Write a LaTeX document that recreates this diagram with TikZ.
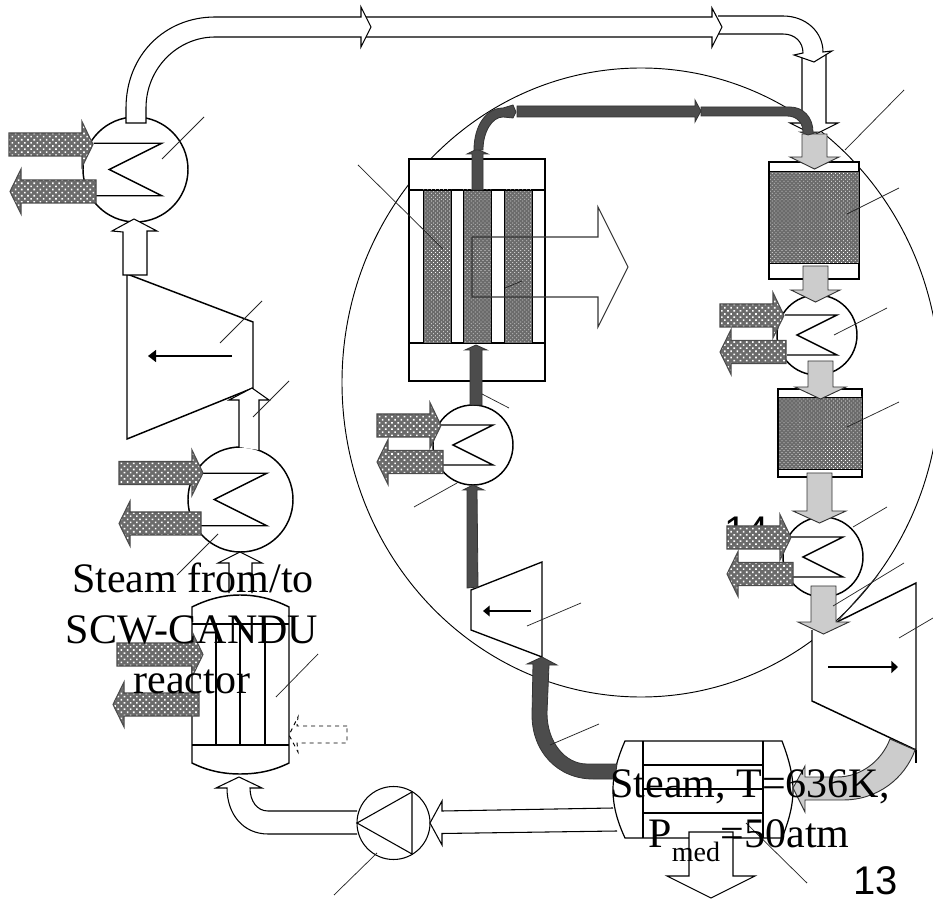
\documentclass[tikz,border=0pt]{standalone}
\usepackage{fontspec}
\setmainfont{Liberation Serif}
\setsansfont{Liberation Sans}
\usetikzlibrary{arrows.meta,patterns.meta}

\begin{document}
\begin{tikzpicture}[
  x=0.75pt,y=-0.75pt,
  line cap=butt,
  line join=miter,
  every node/.style={inner sep=0pt,font=\fontsize{31.5}{36}\selectfont},
  unit/.style={fill=white,line width=1.1pt},
  thinline/.style={line width=0.7pt},
  tag/.style={line width=0.55pt,black!85},
  white pipe/.style={draw,fill=white,line width=0.8pt},
  hot pipe/.style={draw=black!80,fill=black!70,line width=0.6pt},
  gas pipe/.style={draw=black!80,fill=black!20,line width=0.7pt},
  coolant/.style={draw=black!70,line width=0.8pt,preaction={fill=black!58},
    pattern={Dots[radius=0.85pt,distance=3.3pt,angle=45]},pattern color=white},
  bed/.style={draw,line width=0.6pt,preaction={fill=black!58},
    pattern={Dots[radius=0.4pt,distance=2.1pt,angle=45]},pattern color=white},
  big/.style={font=\fontsize{31.5}{36}\selectfont},
  num/.style={font=\sffamily\fontsize{30}{36}\selectfont}
]
\useasboundingbox (0,0) rectangle (933,902);

% ------------------------------------------------------------------
% Copper-chlorine loop boundary
% ------------------------------------------------------------------
\draw[thinline] (641,382.5) ellipse [x radius=299,y radius=314.5];
\node[num,anchor=base] (lbl14) at (747,545) {14};

% ------------------------------------------------------------------
% Heat exchangers
% ------------------------------------------------------------------
\foreach \cx/\cy/\r in {135.5/169.5/52.5,240.5/499.5/52.5,473/445/40,817/335/40,823/557/40}{
  \draw[unit] (\cx,\cy) circle [radius=\r];
  \draw[line width=1.1pt] (\cx-0.8*\r,\cy-0.5*\r) -- ++(1.3*\r,0) -- (\cx-0.5*\r,\cy)
    -- (\cx+0.5*\r,\cy+0.5*\r) -- (\cx-0.75*\r,\cy+0.5*\r);
}

% ------------------------------------------------------------------
% Upper white steam line
% ------------------------------------------------------------------
\draw[white pipe] (802,57) -- (802,123) -- (790,123) -- (814,135) -- (838,123) -- (826,123)
  -- (826,55);
\draw[white pipe] (718,16) -- (783,16) .. controls (806,16) and (823,32) .. (823,52) -- (832,51)
  -- (814,62) -- (794,55) -- (803,53) .. controls (803,42) and (795,34) .. (783,34) -- (718,34);
\draw[white pipe] (366,17) -- (712,17) -- (712,8) -- (722,27) -- (712,47) -- (712,37) -- (366,37);
\draw[white pipe] (126,123) -- (126,108) .. controls (126,55) and (165,17) .. (215,17) -- (361,17)
  -- (361,7) -- (371,27) -- (361,47) -- (361,37) -- (215,37)
  .. controls (178,37) and (146,68) .. (146,108) -- (146,123) -- cycle;

% ------------------------------------------------------------------
% Left turbine train
% ------------------------------------------------------------------
\draw[unit] (127,274) -- (253,322) -- (253,388) -- (127,439) -- cycle;
\draw[line width=1.1pt,-{Triangle[length=6pt,width=9pt]}] (232,356) -- (148,356);
\draw[white pipe] (123,275) -- (123,232) -- (112,231) -- (134,219) -- (157,231) -- (147,231)
  -- (147,275) -- cycle;
\draw[white pipe] (239,447) -- (239,400) -- (229,400) -- (252,388) -- (269,400) -- (259,400)
  -- (259,450);
\draw[white pipe] (229,593) -- (229,563) -- (218,563) -- (240,552) -- (262,563) -- (252,563)
  -- (252,593);

% ------------------------------------------------------------------
% Reactor vessel
% ------------------------------------------------------------------
\draw[unit] (192,607) .. controls (208,599) and (224,595) .. (240,595)
  .. controls (257,595) and (273,599) .. (289,607) -- (289,763)
  .. controls (273,771) and (257,774) .. (240,774)
  .. controls (224,774) and (208,771) .. (192,763) -- cycle;
\draw[unit] (192,624) -- (289,624) (192,745) -- (289,745);
\foreach \x in {216,240,265}
  \draw[line width=1.1pt] (\x,624) -- (\x,745);
\draw[white pipe,dashed,fill=none,line width=0.7pt] (347,726) -- (297,726) -- (298,717)
  -- (289,735) -- (298,752) -- (297,743) -- (347,743) -- cycle;
\draw[white pipe] (357,834) -- (268,834) .. controls (243,834) and (227,814) .. (227,788)
  -- (216,788) -- (239,777) -- (262,788) -- (250,788)
  .. controls (250,801) and (257,811) .. (268,811) -- (357,811);

% ------------------------------------------------------------------
% Pump and condenser
% ------------------------------------------------------------------
\draw[unit,line width=0.8pt] (393.5,823) circle [radius=36.5];
\draw[line width=0.8pt] (357,823) -- (412,792) -- (412,854) -- cycle;
\draw[white pipe] (617,831) -- (442,833.5) -- (442,845) -- (430,823) -- (442,801) -- (442,811)
  -- (613,808);
\draw[unit,line width=0.9pt] (625,741) -- (782,741) .. controls (788,757) and (793,773) .. (793,790)
  .. controls (793,807) and (788,823) .. (782,838) -- (625,838)
  .. controls (618,823) and (613,807) .. (613,790) .. controls (613,773) and (618,757) .. (625,741) -- cycle;
\draw[line width=0.9pt] (643,741) -- (643,838) (763,741) -- (763,838);
\foreach \y in {765,789,813}
  \draw[line width=0.9pt] (643,\y) -- (763,\y);
\draw[white pipe] (689,832) -- (689,876) -- (667,876) -- (711,898) -- (755,876) -- (733,876)
  -- (733,832) -- cycle;

% ------------------------------------------------------------------
% Right side units
% ------------------------------------------------------------------
\draw[unit] (812,630) -- (812,701) -- (916,750) -- (916,583) -- (837,622);
\draw[line width=1.1pt] (916,750) -- (916,763);
\draw[line width=1.1pt,-{Triangle[length=5pt,width=9pt]}] (828,667) -- (898,667);
\draw[gas pipe] (890,739) .. controls (882,760) and (862,777) .. (837,777) -- (805,777)
  -- (805,766) -- (793,788) -- (805,812) -- (805,800) -- (843,800)
  .. controls (878,800) and (905,778) .. (915,750) -- cycle;
\draw[unit,line width=0.8pt] (769,162) rectangle (859,279);
\draw[bed] (769,171) rectangle (859,263);
\draw[unit,line width=0.8pt] (778,389) rectangle (862,477);
\draw[bed] (778,397) rectangle (862,469);

% ------------------------------------------------------------------
% Gray solid flow down the right
% ------------------------------------------------------------------
\foreach \xa/\xb/\ya/\yb/\w in {802/827/134/157/12,803/828/266/290/12,808/833/361/387/13,807/832/473/511/14,811/836/586/622/13}
  \draw[gas pipe] (\xa,\ya) -- (\xb,\ya) -- (\xb,\yb) -- (\xb+\w,\yb)
    -- ({(\xa+\xb)/2},\yb+12) -- (\xa-\w,\yb) -- (\xa,\yb) -- cycle;

% ------------------------------------------------------------------
% Central reactor with catalyst rods
% ------------------------------------------------------------------
\draw[unit,line width=0.8pt] (409,159) rectangle (545,381);
\draw[line width=0.8pt] (409,190) -- (545,190) (409,343) -- (545,343);
\foreach \x in {423,463,504}
  \draw[bed] (\x,190) rectangle (\x+28,343);
\draw[line width=0.8pt,black!80] (472,237) -- (598,237) -- (598,207) -- (628,267) -- (598,327) -- (598,297)
  -- (472,297) -- cycle;

\draw[unit,line width=1pt] (471,590) -- (542,562) -- (542,657) -- (471,630) -- cycle;
\draw[line width=1pt,-{Triangle[length=5pt,width=8pt]}] (531,611) -- (483,611);

% ------------------------------------------------------------------
% Dark steam line
% ------------------------------------------------------------------
\draw[hot pipe] (472,190) -- (472,154) -- (467,154) -- (477,149) -- (488,154) -- (483,154)
  -- (483,190) -- cycle;
\draw[hot pipe] (474,150) .. controls (474,126) and (486,108) .. (503,108) -- (513,105) -- (516,112)
  -- (513,118) -- (503,117) .. controls (492,117) and (483,132) .. (483,150) -- cycle;
\draw[hot pipe] (517,106) -- (695,106) -- (695,100) -- (701,111) -- (695,122) -- (695,117)
  -- (517,117) -- cycle;
\draw[hot pipe] (701,107) -- (790,107) .. controls (803,107) and (813,117) .. (813,132)
  -- (818,132) -- (808,135) -- (800,132) -- (803,132) .. controls (803,123) and (797,116) .. (787,116)
  -- (701,116) -- cycle;
\draw[hot pipe] (470,405) -- (470,350) -- (465,350) -- (476,345) -- (487,350) -- (482,350)
  -- (482,405) -- cycle;
\draw[hot pipe] (467,588) -- (467,490) -- (463,490) -- (473,485) -- (484,490) -- (477,490)
  -- (478,587) -- cycle;
\draw[hot pipe] (617,764) -- (587,764) .. controls (565,764) and (547,742) .. (547,713) -- (549,665)
  -- (557,665) -- (542,657) -- (527,664) -- (533,664) -- (532,715)
  .. controls (532,752) and (558,779) .. (593,779) -- (615,779) -- cycle;

% ------------------------------------------------------------------
% Coolant arrows in and out
% ------------------------------------------------------------------
\foreach \x/\y/\l in {9/144.5/73,119/473/73,377/425.5/53,720/315.5/53,727/537.5/53,117/654.5/75}
  \draw[coolant] (\x,\y-11.5) -- (\x+\l,\y-11.5) -- (\x+\l,\y-23) -- (\x+\l+11,\y) -- (\x+\l,\y+22.5)
    -- (\x+\l,\y+11.5) -- (\x,\y+11.5) -- cycle;
\foreach \x/\y/\l in {96/191.5/75,201/523.5/71,443/462/55,786/352/55,793/574/55,199/704.5/75}
  \draw[coolant] (\x,\y-11.5) -- (\x-\l,\y-11.5) -- (\x-\l,\y-22.5) -- (\x-\l-11,\y) -- (\x-\l,\y+22.5)
    -- (\x-\l,\y+11.5) -- (\x,\y+11.5) -- cycle;

% ------------------------------------------------------------------
% Thin label lines
% ------------------------------------------------------------------
\foreach \xa/\ya/\xb/\yb in {204/117/162/159,262/301/220/343,289/381/253/417,218/534/177/575,
    318/654/276/697,377/853/334/895,358/165/443/249,505/288/522/281,482/394/509/408,414/507/457/483,
    527/626/581/603,550/745/599/724,746/823/807/883,845/150/904/90,847/214/899/188,847/427/899/402,
    834/335/887/308,853/527/887/507,833/606/904/563,837/622/878/575,899/638/933/618}
  \draw[tag] (\xa,\ya) -- (\xb,\yb);

% ------------------------------------------------------------------
% Texts
% ------------------------------------------------------------------
\node[big,anchor=base] (from) at (193,592) {Steam from/to};
\node[big,anchor=base] (scw) at (192,643) {SCW-CANDU};
\node[big,anchor=base] (reac) at (192,693) {reactor};
\node[big,anchor=base] (stm) at (750,797) {Steam, T=636K,};
\node[big,anchor=base] (pmed) at (749,847) {P\raisebox{-10.5pt}{\fontsize{21}{24}\selectfont med}\kern 0.5pt=50atm};
\node[num,anchor=base] (lbl13) at (876,894) {13};

\end{tikzpicture}
\end{document}
